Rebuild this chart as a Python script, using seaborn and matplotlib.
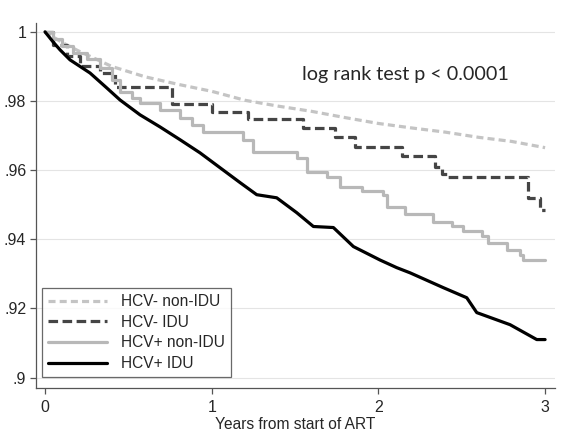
import numpy as np
import pandas as pd
import matplotlib
matplotlib.use("Agg")
import matplotlib.pyplot as plt
import seaborn as sns

# Kaplan-Meier survival estimates
t_neg_non = [0, 0.1, 0.2, 0.4, 0.6, 0.8, 1.0, 1.2, 1.4, 1.6, 1.8, 2.0, 2.2, 2.4, 2.6, 2.8, 3.0]
s_neg_non = [1.0, .997, .9945, .990, .987, .9848, .9828, .9802, .9785, .977, .9752,
             .9735, .9722, .971, .9695, .9683, .9665]

t_neg_idu = [0, 0.05, 0.13, 0.21, 0.33, 0.42, 0.76, 1.00, 1.22, 1.55, 1.74, 1.86,
             2.14, 2.34, 2.38, 2.42, 2.90, 2.97, 3.0]
s_neg_idu = [1.0, .9962, .993, .990, .9881, .984, .979, .9769, .9748, .9722, .9697,
             .9668, .9642, .961, .959, .958, .952, .9486, .9486]

t_pos_non = [0, 0.05, 0.1, 0.17, 0.25, 0.33, 0.4, 0.45, 0.52, 0.57, 0.69, 0.81, 0.88,
             0.95, 1.19, 1.25, 1.51, 1.57, 1.69, 1.77, 1.9, 2.03, 2.05, 2.16, 2.33,
             2.44, 2.51, 2.62, 2.66, 2.77, 2.85, 2.87, 3.0]
s_pos_non = [1.0, .998, .996, .9939, .992, .9896, .986, .9827, .981, .9795, .9775,
             .9751, .973, .971, .9688, .9653, .9636, .9595, .958, .955, .954, .9529,
             .9494, .9474, .945, .9437, .9425, .941, .939, .937, .9356, .9341, .9341]

t_pos_idu = [0, 0.05, 0.09, 0.15, 0.27, 0.37, 0.45, 0.57, 0.69, 0.81, 0.93, 1.05,
             1.17, 1.27, 1.39, 1.51, 1.61, 1.73, 1.85, 2.01, 2.11, 2.19, 2.39, 2.53,
             2.59, 2.79, 2.95, 3.0]
s_pos_idu = [1.0, .997, .9948, .9919, .9881, .9838, .9803, .976, .9725, .9688, .965,
             .9607, .9564, .9529, .952, .9477, .9437, .9434, .9379, .934, .9318,
             .9303, .926, .9231, .9188, .9153, .911, .911]

labels = ["HCV- non-IDU", "HCV- IDU", "HCV+ non-IDU", "HCV+ IDU"]
y_ticks = [0.9, 0.92, 0.94, 0.96, 0.98, 1.0]
y_ticklabels = [".9", ".92", ".94", ".96", ".98", "1"]
x_ticks = [0, 1, 2, 3]

sns.set_theme(style="white")
plt.rcParams["font.family"] = ["Liberation Sans", "DejaVu Sans"]

fig = plt.figure(figsize=(5.67, 4.48), dpi=100)
ax = fig.add_axes([0.0635, 0.134, 0.9155, 0.815])

series = [
    (t_neg_non, s_neg_non, "#c4c4c4", (2.2, 1.3), "default"),
    (t_neg_idu, s_neg_idu, "#454545", (3.0, 1.4), "steps-post"),
    (t_pos_non, s_pos_non, "#b8b8b8", None, "steps-post"),
    (t_pos_idu, s_pos_idu, "#000000", None, "default"),
]
for (t, s, col, dash, ds), lab in zip(series, labels):
    df = pd.DataFrame({"t": t, "s": s})
    kw = dict(color=col, linewidth=2.3, label=lab, drawstyle=ds)
    if dash is not None:
        kw["dashes"] = dash
    sns.lineplot(data=df, x="t", y="s", ax=ax, estimator=None, sort=False, **kw)

ax.set_xlim(-0.054, 3.06)
ax.set_ylim(0.897, 1.0026)
ax.set_yticks(y_ticks)
ax.set_yticklabels(y_ticklabels)
ax.set_xticks(x_ticks)
ax.yaxis.grid(True, color="#e4e4e4", linewidth=0.8)
ax.set_axisbelow(True)
for sp in ["top", "right"]:
    ax.spines[sp].set_visible(False)
for sp in ["left", "bottom"]:
    ax.spines[sp].set_color("#555555")
    ax.spines[sp].set_linewidth(0.9)
ax.tick_params(axis="both", which="major", direction="out", length=4,
               width=0.9, color="#555555", labelsize=11.5, pad=3,
               left=True, bottom=True)
ax.tick_params(axis="x", pad=5)
ax.set_xlabel("Years from start of ART", fontsize=11.2, labelpad=1)
ax.set_ylabel("")

ax.text(2.16, 0.9876, "log rank test p < 0.0001", fontsize=14.2,
        family=["Lato", "DejaVu Sans"], ha="center", va="center")

leg = ax.legend(loc="lower left", bbox_to_anchor=(-0.004, 0.008), fontsize=11.2,
                frameon=True, fancybox=False, handlelength=3.8,
                borderpad=0.4, labelspacing=0.36, handletextpad=0.9)
leg.get_frame().set_edgecolor("#444444")
leg.get_frame().set_linewidth(0.9)

fig.savefig("out.png", dpi=100)
